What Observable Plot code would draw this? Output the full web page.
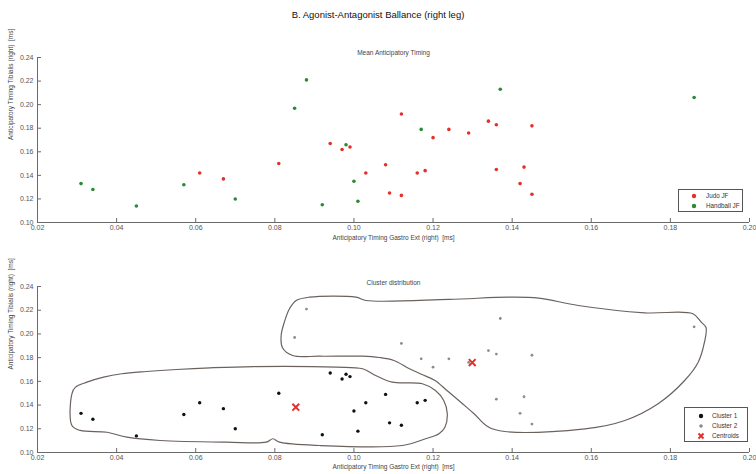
<!DOCTYPE html>
<html>
<head>
<meta charset="utf-8">
<script src="https://cdn.jsdelivr.net/npm/d3@7"></script>
<script src="https://cdn.jsdelivr.net/npm/@observablehq/plot@0.6"></script>
<style>
  body { margin: 0; background: #fff; font-family: "Liberation Sans", Arial, sans-serif; }
  #wrap { position: relative; width: 756px; height: 474px; overflow: hidden; background: #fff; }
  .panel { position: absolute; left: 0; }
  .title { position: absolute; left: 0; width: 756px; text-align: center; font-size: 9.5px; color: #111; }
  .legend { position: absolute; background: #fff; border: 1px solid #555; box-sizing: border-box; }
  .legend .row { position: absolute; font-size: 6.3px; color: #333; white-space: nowrap; line-height: 8px; }
</style>
</head>
<body>
<div id="wrap"></div>
<script>
// ---------- text ----------
const mainTitle = "B. Agonist-Antagonist Ballance (right leg)";
const topTitle = "Mean Anticipatory Timing";
const bottomTitle = "Cluster distribution";
const xLabel = "Anticipatory Timing Gastro Ext (right)  [ms]";
const yLabel = "Anticipatory Timing Tibialis (right)  [ms]";
const topLegend = ["Judo JF", "Handball JF"];
const bottomLegend = ["Cluster 1", "Cluster 2", "Centroids"];

// ---------- axes ----------
const xDomain = [0.02, 0.2];
const yDomain = [0.1, 0.24];
const xTicks = [0.02, 0.04, 0.06, 0.08, 0.1, 0.12, 0.14, 0.16, 0.18, 0.2];
const yTicks = [0.1, 0.12, 0.14, 0.16, 0.18, 0.2, 0.22, 0.24];

// ---------- top panel: groups ----------
const judoX = [0.061, 0.067, 0.081, 0.094, 0.097, 0.099, 0.103, 0.108, 0.109, 0.112, 0.112, 0.116, 0.118, 0.120, 0.124, 0.129, 0.134, 0.136, 0.136, 0.142, 0.143, 0.145, 0.145];
const judoY = [0.142, 0.137, 0.150, 0.167, 0.162, 0.164, 0.142, 0.149, 0.125, 0.192, 0.123, 0.142, 0.144, 0.172, 0.179, 0.176, 0.186, 0.183, 0.145, 0.133, 0.147, 0.182, 0.124];
const handballX = [0.031, 0.034, 0.045, 0.057, 0.070, 0.085, 0.088, 0.092, 0.098, 0.100, 0.101, 0.117, 0.137, 0.186];
const handballY = [0.133, 0.128, 0.114, 0.132, 0.120, 0.197, 0.221, 0.115, 0.166, 0.135, 0.118, 0.179, 0.213, 0.206];

// ---------- bottom panel: clusters ----------
const cluster1X = [0.031, 0.034, 0.045, 0.057, 0.070, 0.092, 0.098, 0.100, 0.101, 0.061, 0.067, 0.081, 0.094, 0.097, 0.099, 0.103, 0.108, 0.109, 0.112, 0.116, 0.118];
const cluster1Y = [0.133, 0.128, 0.114, 0.132, 0.120, 0.115, 0.166, 0.135, 0.118, 0.142, 0.137, 0.150, 0.167, 0.162, 0.164, 0.142, 0.149, 0.125, 0.123, 0.142, 0.144];
const cluster2X = [0.085, 0.088, 0.117, 0.137, 0.186, 0.112, 0.120, 0.124, 0.129, 0.134, 0.136, 0.136, 0.142, 0.143, 0.145, 0.145];
const cluster2Y = [0.197, 0.221, 0.179, 0.213, 0.206, 0.192, 0.172, 0.179, 0.176, 0.186, 0.183, 0.145, 0.133, 0.147, 0.182, 0.124];
const centroidX = [0.0853, 0.1299];
const centroidY = [0.1382, 0.1759];

// cluster outlines (data units)
const outline1X = [0.0287, 0.0296, 0.0325, 0.0367, 0.0413, 0.0476, 0.0552, 0.0636, 0.0745, 0.0955, 0.1022, 0.1055, 0.1097, 0.1173, 0.1206, 0.1227, 0.1236, 0.1230, 0.1215, 0.1181, 0.1122, 0.0913, 0.0812, 0.0795, 0.0778, 0.0678, 0.0510, 0.0426, 0.0376, 0.0308, 0.0287];
const outline1Y = [0.1495, 0.1551, 0.1593, 0.1635, 0.1664, 0.1683, 0.1700, 0.1714, 0.1725, 0.1720, 0.1706, 0.1650, 0.1593, 0.1580, 0.1523, 0.1439, 0.1326, 0.1213, 0.1158, 0.1116, 0.1059, 0.1059, 0.1087, 0.1116, 0.1087, 0.1087, 0.1101, 0.1129, 0.1171, 0.1186, 0.1228];
const outline2X = [0.0887, 0.1005, 0.1030, 0.1240, 0.1391, 0.1467, 0.1567, 0.1735, 0.1857, 0.1878, 0.1890, 0.1886, 0.1870, 0.1836, 0.1769, 0.1685, 0.1584, 0.1349, 0.1303, 0.1265, 0.1235, 0.1205, 0.1172, 0.1139, 0.1101, 0.1064, 0.1021, 0.0913, 0.0845, 0.0819, 0.0816, 0.0824, 0.0837, 0.0854];
const outline2Y = [0.2310, 0.2310, 0.2282, 0.2291, 0.2310, 0.2302, 0.2240, 0.2178, 0.2170, 0.2099, 0.2054, 0.1928, 0.1759, 0.1607, 0.1411, 0.1270, 0.1200, 0.1200, 0.1329, 0.1439, 0.1523, 0.1607, 0.1658, 0.1709, 0.1776, 0.1801, 0.1812, 0.1812, 0.1818, 0.1886, 0.1987, 0.2099, 0.2212, 0.2282];

// ---------- styles ----------
const red = "#e3302b";
const green = "#2b8a35";
const grey = "#8c8c8c";
const axisColor = "#6a6a6a";
const textColor = "#555";
const font = "Liberation Sans, Arial, sans-serif";

const pts = (xs, ys) => xs.map((x, i) => ({x, y: ys[i]}));

function frameMarks(title, titleDy, xLabelDy) {
  return [
    Plot.ruleY([yDomain[0]], {stroke: axisColor, strokeWidth: 1}),
    Plot.ruleX([xDomain[0]], {stroke: axisColor, strokeWidth: 1}),
    Plot.axisX(xTicks, {tickSize: 0, tickPadding: 3, fontSize: 7, fill: textColor, label: null}),
    Plot.axisX(xTicks, {tickSize: 4, dy: -4, stroke: axisColor, tickFormat: () => "", label: null}),
    Plot.axisY(yTicks, {tickSize: 0, tickPadding: 4, fontSize: 7, fill: textColor, label: null}),
    Plot.axisY(yTicks, {tickSize: 4, dx: 4, stroke: axisColor, tickFormat: () => "", label: null}),
    Plot.text([title], {text: d => d, frameAnchor: "top", dy: titleDy, fontSize: 6.5, fill: "#444", lineAnchor: "bottom"}),
    Plot.text([xLabel], {text: d => d, frameAnchor: "bottom", dy: xLabelDy, fontSize: 6.5, fill: "#444"}),
    Plot.text([yLabel], {text: d => d, frameAnchor: "left", dx: -27, rotate: -90, fontSize: 6.5, fill: "#444"})
  ];
}

const wrap = document.getElementById("wrap");

// main title
const t = document.createElement("div");
t.className = "title";
t.style.top = "9px";
t.textContent = mainTitle;
wrap.appendChild(t);

// top panel
const p1 = Plot.plot({
  width: 756, height: 250,
  marginTop: 57, marginBottom: 28, marginLeft: 37, marginRight: 7,
  style: {fontFamily: font, background: "transparent"},
  x: {domain: xDomain},
  y: {domain: yDomain},
  marks: [
    ...frameMarks(topTitle, -3, 17),
    Plot.dot(pts(judoX, judoY), {x: "x", y: "y", r: 1.8, fill: red}),
    Plot.dot(pts(handballX, handballY), {x: "x", y: "y", r: 1.8, fill: green})
  ]
});
p1.classList.add("panel");
p1.style.top = "0px";
wrap.appendChild(p1);

// bottom panel
const p2 = Plot.plot({
  width: 756, height: 224,
  marginTop: 36, marginBottom: 22, marginLeft: 37, marginRight: 7,
  style: {fontFamily: font, background: "transparent"},
  x: {domain: xDomain},
  y: {domain: yDomain},
  marks: [
    ...frameMarks(bottomTitle, -2, 16),
    Plot.line(pts(outline1X, outline1Y), {x: "x", y: "y", curve: "catmull-rom-closed", stroke: "#6b625e", strokeWidth: 1.2}),
    Plot.line(pts(outline2X, outline2Y), {x: "x", y: "y", curve: "catmull-rom-closed", stroke: "#6b625e", strokeWidth: 1.2}),
    Plot.dot(pts(cluster1X, cluster1Y), {x: "x", y: "y", r: 1.7, fill: "#111"}),
    Plot.dot(pts(cluster2X, cluster2Y), {x: "x", y: "y", r: 1.4, fill: grey}),
    Plot.dot(pts(centroidX, centroidY), {x: "x", y: "y", symbol: "times", r: 3.2, stroke: red, strokeWidth: 2})
  ]
});
p2.classList.add("panel");
p2.style.top = "250px";
wrap.appendChild(p2);

// legends
function legend(left, top, w, h, entries, markerX, textX, rowTops) {
  const box = document.createElement("div");
  box.className = "legend";
  Object.assign(box.style, {left: left + "px", top: top + "px", width: w + "px", height: h + "px"});
  entries.forEach((e, i) => {
    const m = document.createElementNS("http://www.w3.org/2000/svg", "svg");
    m.setAttribute("width", 8); m.setAttribute("height", 8);
    Object.assign(m.style, {position: "absolute", left: (markerX - 4) + "px", top: (rowTops[i] - 4) + "px"});
    if (e.kind === "x") {
      m.innerHTML = `<path d="M1.5,1.5L6.5,6.5M6.5,1.5L1.5,6.5" stroke="${e.color}" stroke-width="2"/>`;
    } else {
      m.innerHTML = `<circle cx="4" cy="4" r="${e.r}" fill="${e.color}"/>`;
    }
    box.appendChild(m);
    const r = document.createElement("div");
    r.className = "row";
    r.textContent = e.label;
    Object.assign(r.style, {left: textX + "px", top: (rowTops[i] - 4) + "px"});
    box.appendChild(r);
  });
  wrap.appendChild(box);
}
legend(678, 189, 65, 23,
  [{label: topLegend[0], color: red, r: 2.2}, {label: topLegend[1], color: green, r: 2.2}],
  15, 27, [6, 16]);
legend(684, 407, 64, 35,
  [{label: bottomLegend[0], color: "#111", r: 2.2}, {label: bottomLegend[1], color: grey, r: 1.8}, {label: bottomLegend[2], color: red, kind: "x"}],
  16, 27, [8, 18, 28]);
</script>
</body>
</html>
